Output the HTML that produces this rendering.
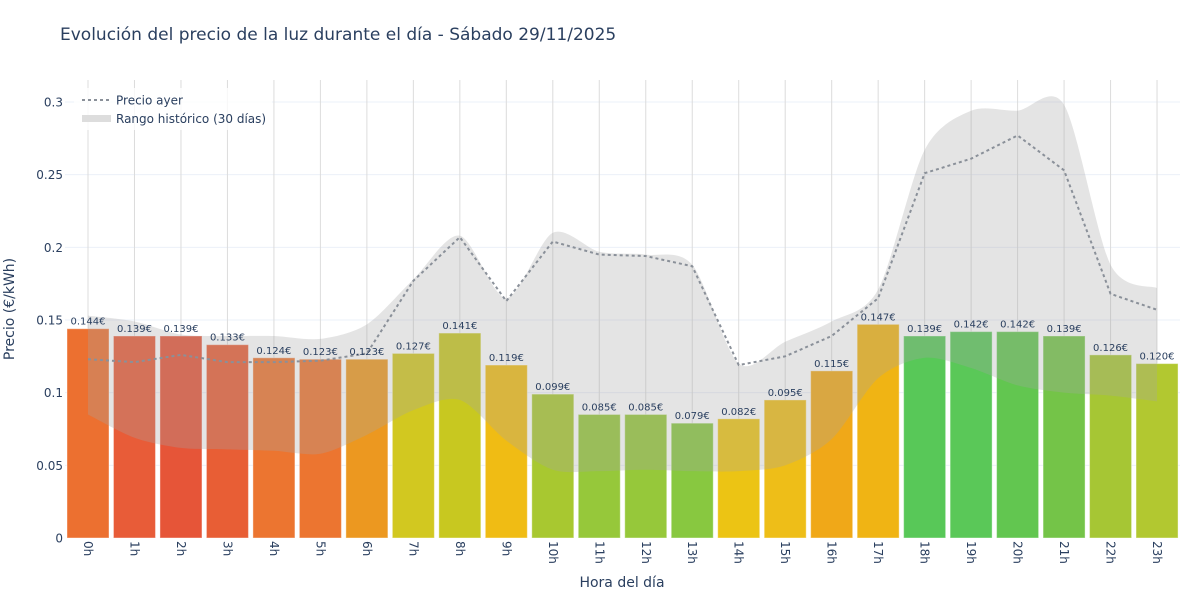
<!DOCTYPE html>
<html><head><meta charset="utf-8"><style>
body{margin:0;background:#fff;}
svg{display:block;font-family:"DejaVu Sans","Liberation Sans",sans-serif;}
</style></head><body>
<svg id="s" width="1200" height="600" xmlns="http://www.w3.org/2000/svg">
<rect width="1200" height="600" fill="#fff"/>
<text x="60" y="40" font-size="17" fill="#2a3f5f">Evolución del precio de la luz durante el día - Sábado 29/11/2025</text>
<g id="grid"></g><g id="bars"></g><g id="band"></g><g id="line"></g><g id="lbl"></g>
<text x="622" y="587" font-size="14" fill="#2a3f5f" text-anchor="middle">Hora del día</text>
<text transform="translate(14,309) rotate(-90)" font-size="14" fill="#2a3f5f" text-anchor="middle">Precio (€/kWh)</text>
<rect x="74" y="88" width="198" height="42" fill="#fff" opacity="0.8"/>
<line x1="82" y1="100" x2="111" y2="100" stroke="#8a9099" stroke-width="2" stroke-dasharray="3,3"/>
<text x="116" y="104.5" font-size="12" fill="#2a3f5f">Precio ayer</text>
<rect x="82" y="115" width="29" height="7" fill="#ddd"/>
<text x="116" y="123" font-size="12" fill="#2a3f5f">Rango histórico (30 días)</text>
</svg>
<script>
const NS="http://www.w3.org/2000/svg";
const Y=v=>538-v*1453.3, X=i=>88+i*46.48;
function el(p,t,a,txt){const e=document.createElementNS(NS,t);for(const k in a)e.setAttribute(k,a[k]);if(txt!=null)e.textContent=txt;document.getElementById(p).appendChild(e);return e;}
for(let k=1;k<=6;k++){const v=k*0.05;el('grid','line',{x1:65,x2:1180,y1:Y(v),y2:Y(v),stroke:'#ebf0f8','stroke-width':1});}
for(let k=0;k<=6;k++){const v=k*0.05;el('grid','text',{x:63,y:Y(v)+4.5,'font-size':12,fill:'#2a3f5f','text-anchor':'end'},k==0?'0':String(+v.toFixed(2)));}
for(let i=0;i<24;i++)el('grid','line',{x1:X(i),x2:X(i),y1:80,y2:538,stroke:'#dcdcdc','stroke-width':1});
const p=[.144,.139,.139,.133,.124,.123,.123,.127,.141,.119,.099,.085,.085,.079,.082,.095,.115,.147,.139,.142,.142,.139,.126,.120];
const c=['#ec7030','#e85c38','#e65538','#e85e35','#ec7530','#ec7530','#ec9820','#d2c820','#c8c820','#f0bc14','#a8c830','#96c83a','#96c83a','#88c840','#ecc414','#eebe18','#f0a818','#f0b414','#58c858','#5ac858','#62c650','#74c448','#a6c634','#b2c830'];
for(let i=0;i<24;i++){el('bars','rect',{x:X(i)-21,y:Y(p[i]),width:42,height:538-Y(p[i]),fill:c[i],stroke:'rgba(255,255,255,0.4)','stroke-width':1});
el('lbl','text',{x:X(i),y:Y(p[i])-4,'font-size':10,fill:'#2a3f5f','text-anchor':'middle'},p[i].toFixed(3)+'€');
el('lbl','text',{transform:`translate(${X(i)-4},541) rotate(90)`,'font-size':12,fill:'#2a3f5f'},i+'h');}
const up=[.153,.149,.140,.139,.139,.137,.147,.178,.208,.165,.21,.197,.195,.188,.12,.135,.149,.171,.267,.294,.294,.298,.188,.172];
const lo=[.085,.069,.062,.061,.060,.058,.071,.088,.095,.067,.047,.046,.047,.046,.046,.05,.068,.11,.124,.117,.105,.1,.098,.094];
function spline(pts){let d='';for(let i=0;i<pts.length-1;i++){const p0=pts[Math.max(0,i-1)],p1=pts[i],p2=pts[i+1],p3=pts[Math.min(pts.length-1,i+2)];const t=7;
const c1=[p1[0]+(p2[0]-p0[0])/t,p1[1]+(p2[1]-p0[1])/t],c2=[p2[0]-(p3[0]-p1[0])/t,p2[1]-(p3[1]-p1[1])/t];d+=` C${c1} ${c2} ${p2}`;}return d;}
const U=up.map((v,i)=>[X(i),Y(v)]),L=lo.map((v,i)=>[X(i),Y(v)]).reverse();
el('band','path',{d:`M${U[0]}`+spline(U)+` L${L[0]}`+spline(L)+'Z',fill:'rgba(165,165,165,0.3)'});
const a=[.123,.121,.126,.121,.121,.122,.127,.177,.207,.163,.204,.195,.194,.187,.119,.125,.139,.165,.251,.261,.277,.253,.168,.157];
el('line','polyline',{points:a.map((v,i)=>X(i)+','+Y(v)).join(' '),fill:'none',stroke:'#8a9099','stroke-width':2,'stroke-dasharray':'3,3'});
</script>
</body></html>
